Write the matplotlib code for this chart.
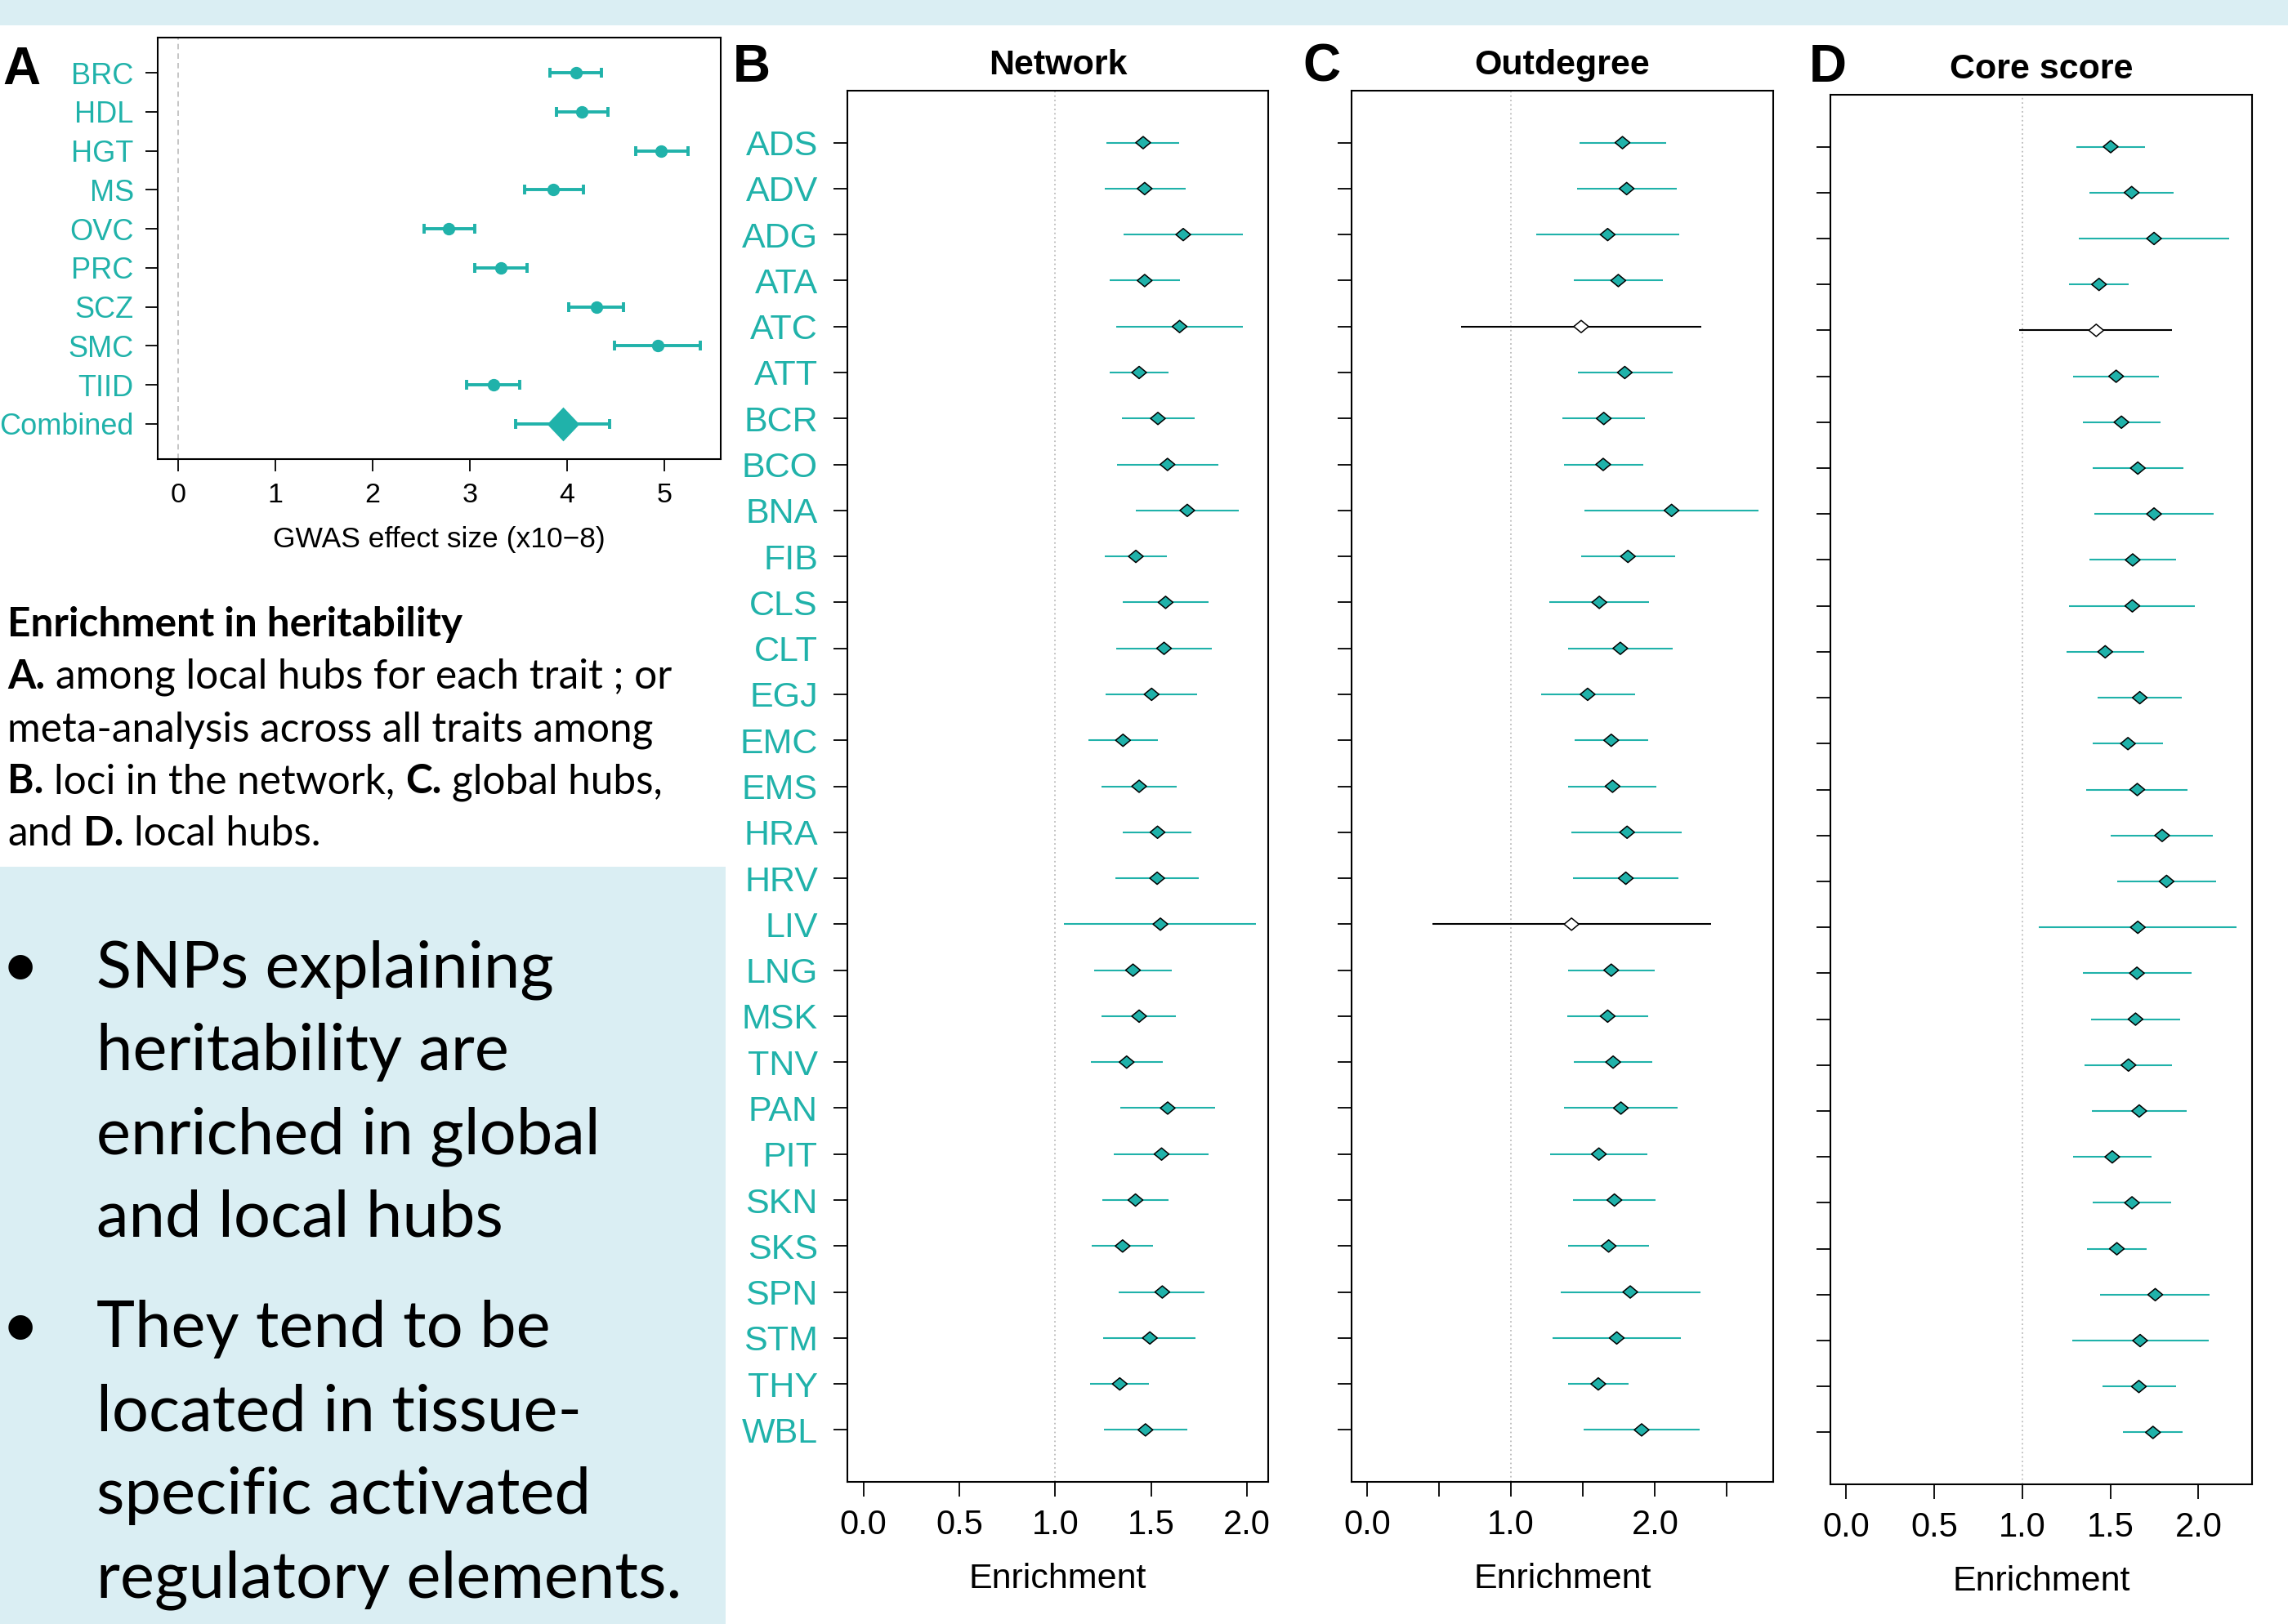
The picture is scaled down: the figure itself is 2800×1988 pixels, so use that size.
import numpy as np
import matplotlib
matplotlib.use("Agg")
import matplotlib.pyplot as plt
from matplotlib.path import Path
from matplotlib.markers import MarkerStyle
from matplotlib.patches import Rectangle

# ---------------- data ----------------
traits_a = ["BRC", "HDL", "HGT", "MS", "OVC", "PRC", "SCZ", "SMC", "TIID"]
effect_a = [4.09, 4.15, 4.97, 3.86, 2.78, 3.32, 4.30, 4.93, 3.24]
lo_a = [3.82, 3.89, 4.71, 3.56, 2.53, 3.05, 4.02, 4.49, 2.97]
hi_a = [4.35, 4.42, 5.24, 4.17, 3.05, 3.59, 4.58, 5.37, 3.51]
combined_label = "Combined"
combined_est = 3.96
combined_lo = 3.47
combined_hi = 4.44

tissues = ["ADS", "ADV", "ADG", "ATA", "ATC", "ATT", "BCR", "BCO", "BNA", "FIB",
           "CLS", "CLT", "EGJ", "EMC", "EMS", "HRA", "HRV", "LIV", "LNG", "MSK",
           "TNV", "PAN", "PIT", "SKN", "SKS", "SPN", "STM", "THY", "WBL"]

net_est = [1.458, 1.466, 1.667, 1.466, 1.648, 1.437, 1.535, 1.585, 1.688, 1.420,
           1.575, 1.567, 1.502, 1.353, 1.437, 1.533, 1.531, 1.548, 1.405, 1.437,
           1.372, 1.586, 1.554, 1.418, 1.351, 1.558, 1.493, 1.336, 1.470]
net_lo = [1.267, 1.258, 1.355, 1.285, 1.319, 1.285, 1.346, 1.321, 1.418, 1.258,
          1.353, 1.317, 1.262, 1.172, 1.243, 1.353, 1.315, 1.046, 1.204, 1.241,
          1.185, 1.340, 1.306, 1.245, 1.191, 1.330, 1.250, 1.181, 1.254]
net_hi = [1.646, 1.678, 1.978, 1.649, 1.978, 1.590, 1.726, 1.850, 1.955, 1.581,
          1.798, 1.818, 1.741, 1.533, 1.632, 1.711, 1.747, 2.045, 1.607, 1.630,
          1.562, 1.833, 1.798, 1.590, 1.510, 1.779, 1.730, 1.487, 1.688]

out_est = [1.774, 1.803, 1.671, 1.745, 1.487, 1.790, 1.644, 1.640, 2.115, 1.812,
           1.613, 1.759, 1.532, 1.696, 1.705, 1.806, 1.797, 1.420, 1.696, 1.671,
           1.709, 1.763, 1.610, 1.718, 1.678, 1.828, 1.734, 1.606, 1.907]
out_lo = [1.476, 1.456, 1.175, 1.435, 0.652, 1.465, 1.359, 1.368, 1.512, 1.487,
          1.267, 1.397, 1.209, 1.442, 1.397, 1.417, 1.431, 0.455, 1.395, 1.390,
          1.435, 1.370, 1.274, 1.433, 1.397, 1.346, 1.289, 1.395, 1.503]
out_hi = [2.075, 2.149, 2.171, 2.057, 2.322, 2.120, 1.931, 1.918, 2.717, 2.138,
          1.958, 2.120, 1.860, 1.954, 2.010, 2.187, 2.162, 2.387, 1.996, 1.952,
          1.983, 2.156, 1.947, 2.005, 1.956, 2.315, 2.180, 1.819, 2.308]

core_est = [1.502, 1.621, 1.748, 1.436, 1.420, 1.533, 1.563, 1.656, 1.748, 1.627,
            1.625, 1.471, 1.667, 1.600, 1.653, 1.794, 1.819, 1.656, 1.651, 1.643,
            1.603, 1.664, 1.511, 1.623, 1.537, 1.755, 1.669, 1.662, 1.742]
core_lo = [1.308, 1.383, 1.319, 1.266, 0.985, 1.290, 1.343, 1.398, 1.409, 1.381,
           1.266, 1.253, 1.429, 1.401, 1.363, 1.502, 1.539, 1.095, 1.343, 1.392,
           1.356, 1.394, 1.291, 1.398, 1.368, 1.444, 1.282, 1.455, 1.572]
core_hi = [1.695, 1.858, 2.175, 1.603, 1.851, 1.775, 1.783, 1.913, 2.085, 1.871,
           1.981, 1.691, 1.904, 1.797, 1.940, 2.082, 2.100, 2.217, 1.961, 1.895,
           1.852, 1.935, 1.733, 1.845, 1.704, 2.061, 2.058, 1.873, 1.909]

panel_titles = ["Network", "Outdegree", "Core score"]
xlabel_a = "GWAS effect size (x10\u22128)"
xlabel_forest = "Enrichment"

caption_lines = [
    [("Enrichment in heritability", "bold")],
    [("A.", "bold"), (" among local hubs for each trait ; or", "normal")],
    [("meta-analysis across all traits among", "normal")],
    [("B.", "bold"), (" loci in the network, ", "normal"), ("C.", "bold"), (" global hubs,", "normal")],
    [("and ", "normal"), ("D.", "bold"), (" local hubs.", "normal")],
]
bullet_1 = ["SNPs explaining", "heritability are", "enriched in global", "and local hubs"]
bullet_2 = ["They tend to be", "located in tissue-", "specific activated", "regulatory elements."]

# ---------------- style ----------------
TEAL = "#20B2AA"
BLUE_BG = "#DAEEF3"
W, H = 2800, 1988
plt.rcParams['font.family'] = ['Liberation Sans', 'DejaVu Sans']

fig = plt.figure(figsize=(W / 100, H / 100), dpi=100)
renderer = fig.canvas.get_renderer()


def fy(py):
    return 1 - py / H


def box(l, t, r, b):
    return [l / W, 1 - b / H, (r - l) / W, (b - t) / H]


# background shapes
fig.add_artist(Rectangle((0, fy(31)), 1, 31 / H, transform=fig.transFigure,
                         facecolor=BLUE_BG, edgecolor='none', zorder=0))
fig.add_artist(Rectangle((0, 0), 888 / W, (H - 1061) / H, transform=fig.transFigure,
                         facecolor=BLUE_BG, edgecolor='none', zorder=0))

small_diamond = MarkerStyle(Path([(-1, 0), (0, 0.83), (1, 0), (0, -0.83), (-1, 0)],
                                 [Path.MOVETO, Path.LINETO, Path.LINETO, Path.LINETO, Path.CLOSEPOLY]))
big_diamond = MarkerStyle(Path([(-0.95, 0), (0, 1), (0.95, 0), (0, -1), (-0.95, 0)],
                               [Path.MOVETO, Path.LINETO, Path.LINETO, Path.LINETO, Path.CLOSEPOLY]))

# ---------------- panel A ----------------
axA = fig.add_axes(box(193, 46, 882, 562))
nA = len(traits_a) + 1
yA = np.arange(nA, 0, -1)
est = np.array(effect_a)
lo = np.array(lo_a)
hi = np.array(hi_a)
axA.axvline(0, color='#BBBBBB', lw=1.2, ls=(0, (4, 3)), zorder=1)
axA.errorbar(est, yA[:-1], xerr=[est - lo, hi - est], fmt='o', color=TEAL, ms=10,
             elinewidth=2.8, capsize=4, capthick=2.8, zorder=3)
axA.errorbar([combined_est], [yA[-1]], xerr=[[combined_est - combined_lo], [combined_hi - combined_est]],
             fmt='none', ecolor=TEAL, elinewidth=2.8, capsize=4, capthick=2.8, zorder=3)
axA.scatter([combined_est], [yA[-1]], marker=big_diamond, s=30 ** 2, color=TEAL, linewidths=0, zorder=4)
axA.set_xlim(-0.21, 5.58)
axA.set_ylim(0.1, nA + 0.9)
axA.set_yticks(yA)
axA.set_yticklabels(traits_a + [combined_label], color=TEAL, fontsize=26)
axA.set_xticks(range(6))
axA.set_xticklabels([str(v) for v in range(6)], fontsize=24.5)
axA.tick_params(axis='y', direction='out', length=11, width=1.3, pad=10)
axA.tick_params(axis='x', direction='out', length=11, width=1.3, pad=10)
axA.set_xlabel(xlabel_a, fontsize=25.5, labelpad=16)
for sp in axA.spines.values():
    sp.set_linewidth(1.5)


# ---------------- forest panels ----------------
def forest(rect, est, lo, hi, title, xlim, xticks, xticklabels, show_labels):
    ax = fig.add_axes(rect)
    est, lo, hi = np.asarray(est), np.asarray(lo), np.asarray(hi)
    n = len(est)
    y = np.arange(n, 0, -1)
    sig = lo > 1
    lcol = [TEAL if s else 'black' for s in sig]
    fcol = [TEAL if s else 'white' for s in sig]
    ax.axvline(1, color='#BBBBBB', lw=1.3, ls=(0, (1, 2)), zorder=1)
    ax.hlines(y, lo, hi, colors=lcol, lw=1.5, zorder=2)
    ax.scatter(est, y, marker=small_diamond, s=13 ** 2, facecolors=fcol,
               edgecolors='black', linewidths=1.1, zorder=3)
    ax.set_xlim(*xlim)
    ax.set_ylim(1 - 1.13, n + 1.13)
    ax.set_yticks(y)
    if show_labels:
        ax.set_yticklabels(tissues, color=TEAL, fontsize=31)
    else:
        ax.set_yticklabels([])
    ax.set_xticks(xticks)
    ax.set_xticklabels(xticklabels, fontsize=30)
    ax.tick_params(axis='y', direction='out', length=12.5, width=1.3, pad=13.5)
    ax.tick_params(axis='x', direction='out', length=13, width=1.3, pad=10.5)
    ax.set_xlabel(xlabel_forest, fontsize=31, labelpad=19)
    ax.set_title(title, fontsize=31, fontweight='bold', pad=14.5)
    for sp in ax.spines.values():
        sp.set_linewidth(1.5)
    return ax


forest(box(1037, 111, 1552, 1814), net_est, net_lo, net_hi, panel_titles[0],
       (-0.084, 2.11), [0, 0.5, 1, 1.5, 2], ["0.0", "0.5", "1.0", "1.5", "2.0"], True)
forest(box(1654, 111, 2170, 1814), out_est, out_lo, out_hi, panel_titles[1],
       (-0.108, 2.821), [0, 0.5, 1, 1.5, 2, 2.5], ["0.0", "", "1.0", "", "2.0", ""], False)
forest(box(2240, 116, 2756, 1817), core_est, core_lo, core_hi, panel_titles[2],
       (-0.088, 2.304), [0, 0.5, 1, 1.5, 2], ["0.0", "0.5", "1.0", "1.5", "2.0"], False)

# panel letters
for letter, x_px, base_px in [("A", 3, 103), ("B", 897, 100), ("C", 1594, 100), ("D", 2214, 100)]:
    fig.text(x_px / W, fy(base_px), letter, fontsize=46, fontweight='bold',
             va='baseline', ha='left')


# ---------------- left text block ----------------
def measure(s, size, weight):
    t = fig.text(0, 0, s, fontsize=size, family='Lato', weight=weight)
    w = t.get_window_extent(renderer=renderer).width
    t.remove()
    return w


cap_size = 40 * 791 / measure("meta-analysis across all traits among", 40, 'normal')
bul_size = 60 * 716 / measure("regulatory elements.", 60, 'normal')


def draw_line(chunks, x0_px, base_px, size):
    space_w = measure("a a", size, 'normal') - measure("aa", size, 'normal')
    x = x0_px
    for txt, wt in chunks:
        lead = len(txt) - len(txt.lstrip(' '))
        trail = len(txt) - len(txt.rstrip(' '))
        core = txt.strip(' ')
        x += lead * space_w
        t = fig.text(x / W, fy(base_px), core, fontsize=size, family='Lato', weight=wt,
                     va='baseline', ha='left', color='black')
        x += t.get_window_extent(renderer=renderer).width + trail * space_w


for i, chunks in enumerate(caption_lines):
    draw_line(chunks, 9, 779 + i * 64, cap_size)

bullet_bases = [1208, 1649]
for group, base in zip([bullet_1, bullet_2], bullet_bases):
    fig.text(2 / W, fy(base), "\u2022", fontsize=bul_size, family='Lato', va='baseline', ha='left')
    for j, line in enumerate(group):
        fig.text(118 / W, fy(base + j * 102), line, fontsize=bul_size, family='Lato',
                 va='baseline', ha='left', color='black')

fig.savefig("out.png", dpi=100)
